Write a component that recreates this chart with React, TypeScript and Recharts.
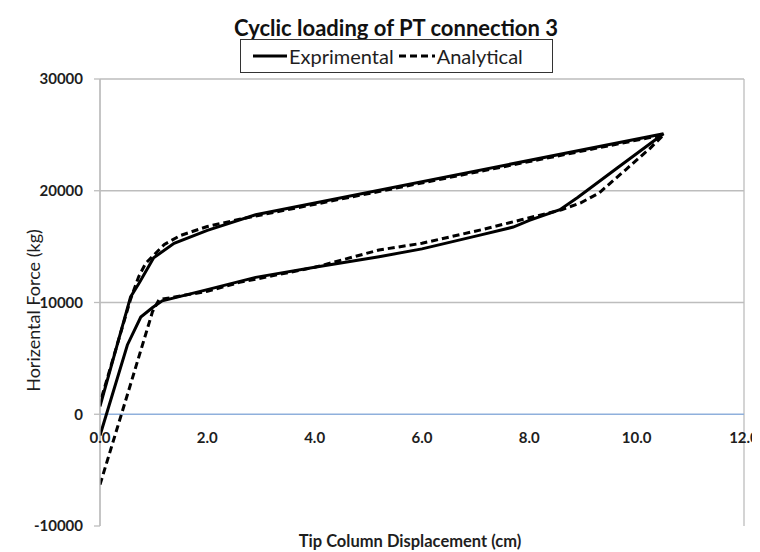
import React from 'react';
import {
  LineChart,
  Line,
  XAxis,
  YAxis,
  CartesianGrid,
  ReferenceLine,
  ReferenceDot,
} from 'recharts';

// Tip column displacement (cm) / horizontal force (kg), traced around the hysteresis loop
const experimentalX = [
  0.0, 0.51, 0.76, 0.98, 1.16, 2.0, 2.9, 4.0, 5.2, 6.0, 7.1, 7.7, 8.0, 8.57, 8.9, 9.6, 10.5,
  2.9, 2.0, 1.38, 1.0, 0.73, 0.57, 0.0,
];
const experimentalF = [
  -1900, 6200, 8700, 9550, 10150, 11150, 12250, 13150, 14100, 14800, 16050, 16750, 17350, 18300, 19400, 21900, 25100,
  17850, 16450, 15300, 14000, 11750, 10500, 700,
];

const analyticalX = [
  0.0, 0.52, 0.98, 1.1, 2.0, 2.6, 4.0, 5.2, 6.0, 7.1, 7.85, 8.6, 8.95, 9.3, 9.8, 10.25, 10.5,
  2.6, 2.0, 1.5, 1.2, 0.85, 0.72, 0.57, 0.0,
];
const analyticalF = [
  -6300, 1900, 9200, 10250, 11000, 11800, 13150, 14700, 15300, 16500, 17400, 18300, 18900, 19800, 21900, 23800, 25000,
  17450, 16800, 16000, 15200, 13500, 12300, 10300, 1000,
];

const xTicks = [0, 2, 4, 6, 8, 10, 12];
const xTickLabels = ['0.0', '2.0', '4.0', '6.0', '8.0', '10.0', '12.0'];
const yTicks = [-10000, 0, 10000, 20000, 30000];
const yGridValues = [10000, 20000, 30000];

const experimental = experimentalX.map((x, i) => ({ x, f: experimentalF[i] }));
const analytical = analyticalX.map((x, i) => ({ x, f: analyticalF[i] }));

const FONT = 'Lato, "Open Sans", sans-serif';
const GRID = '#bdbdbd';
const TEXT = '#1e1e1e';

const XTitle = (props: any) => {
  const vb = props.viewBox || {};
  return (
    <text
      x={vb.x + vb.width / 2 - 12}
      y={vb.y + 21}
      textAnchor="middle"
      fontFamily={FONT}
      fontSize={16.5}
      fontWeight={700}
      fill={TEXT}
    >
      Tip Column Displacement (cm)
    </text>
  );
};

const YTitle = (props: any) => {
  const vb = props.viewBox || {};
  const cy = vb.y + vb.height / 2 + 8;
  return (
    <text
      transform={`translate(26, ${cy}) rotate(-90)`}
      textAnchor="middle"
      dy="0.35em"
      fontFamily={FONT}
      fontSize={18}
      fill={TEXT}
    >
      Horizental Force (kg)
    </text>
  );
};

const LegendBox = () => (
  <div
    style={{
      position: 'absolute',
      left: 232,
      top: 31,
      width: 313,
      height: 34,
      border: '1.5px solid #333',
      boxSizing: 'border-box',
      display: 'flex',
      alignItems: 'center',
      paddingLeft: 12,
      fontFamily: FONT,
      fontSize: 20,
      color: TEXT,
      background: '#fff',
      zIndex: 2,
    }}
  >
    <svg width={34} height={10} style={{ marginRight: 2 }}>
      <line x1={0} y1={5} x2={34} y2={5} stroke="#000" strokeWidth={3} />
    </svg>
    <span style={{ marginRight: 5 }}>Exprimental</span>
    <svg width={36} height={10} style={{ marginRight: 2 }}>
      <line x1={0} y1={5} x2={36} y2={5} stroke="#000" strokeWidth={3} strokeDasharray="7 4" />
    </svg>
    <span>Analytical</span>
  </div>
);

export default function App() {
  return (
    <div style={{ position: 'relative', width: 752, height: 544 }}>
      <div
        style={{
          position: 'absolute',
          left: 188,
          top: 6,
          width: 400,
          textAlign: 'center',
          fontFamily: FONT,
          fontSize: 22,
          fontWeight: 700,
          color: '#111',
          zIndex: 2,
        }}
      >
        Cyclic loading of PT connection 3
      </div>
      <LegendBox />
      <LineChart width={752} height={544} margin={{ top: 71, right: 16, bottom: 0, left: 0 }}>
        <CartesianGrid horizontal={false} stroke={GRID} strokeWidth={1.3} />
        <XAxis
          type="number"
          dataKey="x"
          domain={[0, 12]}
          ticks={xTicks}
          tick={false}
          tickLine={false}
          axisLine={false}
          height={26}
          allowDataOverflow
          label={{ content: XTitle }}
        />
        <YAxis
          type="number"
          domain={[-10000, 30000]}
          ticks={yTicks}
          width={92}
          tickSize={6}
          tickMargin={11}
          axisLine={{ stroke: GRID, strokeWidth: 1.3 }}
          tickLine={{ stroke: GRID, strokeWidth: 1.3 }}
          tick={{ fontSize: 15, fontWeight: 700, fill: TEXT, fontFamily: FONT }}
          allowDataOverflow
          label={{ content: YTitle }}
        />
        {yGridValues.map((v) => (
          <ReferenceLine key={v} y={v} stroke={GRID} strokeWidth={1.3} />
        ))}
        <ReferenceLine y={0} stroke="#8fb0dc" strokeWidth={1.3} />
        {xTicks.map((t, i) => (
          <ReferenceDot
            key={t}
            x={t}
            y={0}
            r={0}
            fill="none"
            stroke="none"
            label={{
              value: xTickLabels[i],
              position: 'bottom',
              offset: 18,
              fontSize: 15,
              fontWeight: 700,
              fill: TEXT,
              fontFamily: FONT,
            }}
          />
        ))}
        <Line
          data={experimental}
          dataKey="f"
          type="linear"
          stroke="#000"
          strokeWidth={3}
          dot={false}
          isAnimationActive={false}
        />
        <Line
          data={analytical}
          dataKey="f"
          type="linear"
          stroke="#000"
          strokeWidth={3}
          strokeDasharray="7 4"
          dot={false}
          isAnimationActive={false}
        />
      </LineChart>
    </div>
  );
}
